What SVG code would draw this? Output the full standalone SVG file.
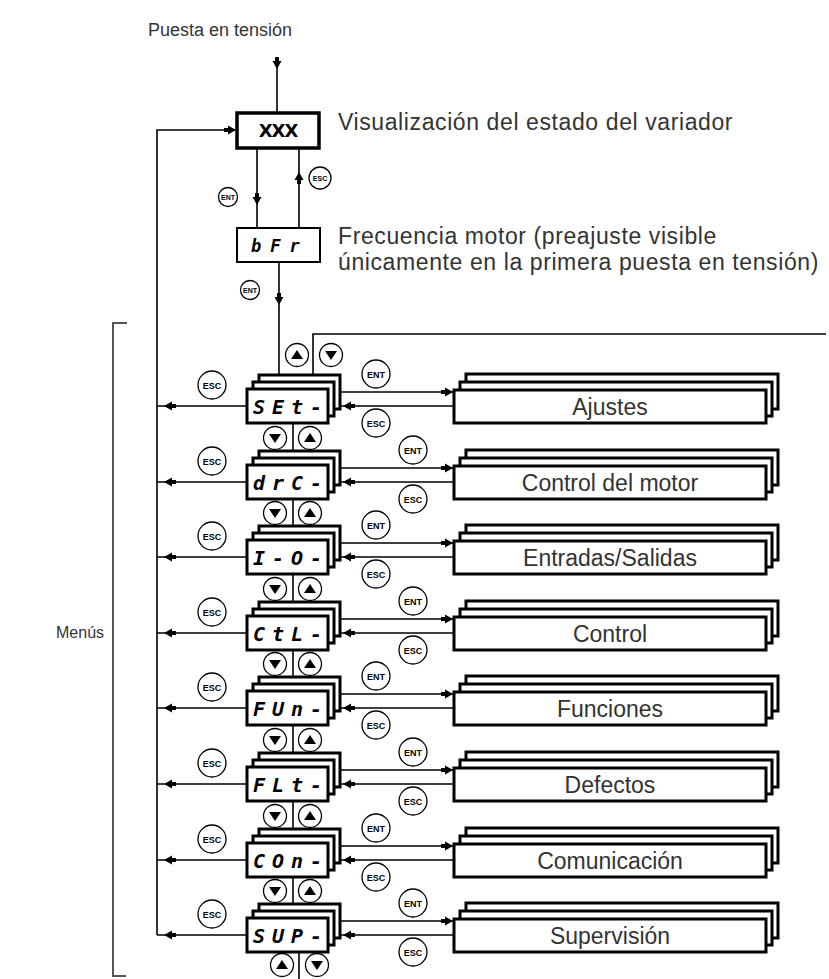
<svg xmlns="http://www.w3.org/2000/svg" xmlns:xlink="http://www.w3.org/1999/xlink" width="829" height="979" viewBox="0 0 829 979">
<style>
.lay{fill:#fff;stroke:#000;stroke-width:3}
.ln{fill:none;stroke:#000;stroke-width:1.6}
.btn{fill:#fff;stroke:#000;stroke-width:1.3}
.lbl{font-family:"Liberation Sans",Arial,sans-serif;font-size:23px;fill:#333;text-anchor:middle}
.cap{font-family:"Liberation Sans",Arial,sans-serif;font-size:23px;letter-spacing:0.6px;fill:#333}
.sm{font-family:"Liberation Sans",Arial,sans-serif;font-size:18px;fill:#333}
.seg{font-family:"DejaVu Sans Mono",monospace;font-weight:bold;font-style:oblique;font-size:20px;letter-spacing:7px;fill:#000}
.bt{font-family:"Liberation Sans",Arial,sans-serif;font-weight:bold;font-size:9px;fill:#000;text-anchor:middle}
.bts{font-family:"Liberation Sans",Arial,sans-serif;font-weight:bold;font-size:7px;fill:#000;text-anchor:middle}
</style>
<defs>
<path id="ar" d="M0,0 L-8,-4.5 L-8,-2 L-12,-2 L-12,2 L-8,2 L-8,4.5 Z" fill="#000"/>
<g id="bUp"><circle r="11.5" class="btn"/><path d="M-6,4 L6,4 L0,-5 Z" fill="#000"/></g>
<g id="bDn"><circle r="11.5" class="btn"/><path d="M-6,-4 L6,-4 L0,5 Z" fill="#000"/></g>
<g id="bEnt"><circle r="14" class="btn"/><text class="bt" y="3.5">ENT</text></g>
<g id="bEsc"><circle r="14" class="btn"/><text class="bt" y="3.5">ESC</text></g>
</defs>
<rect width="829" height="979" fill="#fff"/>

<g id="labels">
<text class="sm" x="148" y="36">Puesta en tensión</text>
<text class="cap" x="338" y="130">Visualización del estado del variador</text>
<text class="cap" x="338" y="244">Frecuencia motor (preajuste visible</text>
<text class="cap" x="338" y="270">únicamente en la primera puesta en tensión)</text>
<text class="sm" x="56" y="638" style="font-size:16px">Menús</text>
</g>

<g id="bracket"><polyline points="127,323 113,323 113,976 126,976" fill="none" stroke="#555" stroke-width="2"/></g>

<g id="connectors">
<line class="ln" x1="277" y1="60" x2="277" y2="113"/>
<use xlink:href="#ar" transform="translate(277,69) rotate(90)"/>
<polyline class="ln" points="235,130 157,130 157,935"/>
<use xlink:href="#ar" transform="translate(236,130)"/>
<line class="ln" x1="257" y1="148" x2="257" y2="228"/>
<use xlink:href="#ar" transform="translate(257,205) rotate(90)"/>
<line class="ln" x1="299" y1="148" x2="299" y2="228"/>
<use xlink:href="#ar" transform="translate(299,172) rotate(-90)"/>
<line class="ln" x1="279" y1="262" x2="279" y2="375"/>
<use xlink:href="#ar" transform="translate(279,305) rotate(90)"/>
<polyline class="ln" points="313,375 313,334 826,334"/>
<line class="ln" x1="299" y1="952" x2="299" y2="979"/>

<g id="row-lines">
<line class="ln" x1="247" y1="406" x2="157" y2="406"/><use xlink:href="#ar" transform="translate(164,406) rotate(180)"/>
<line class="ln" x1="340" y1="392" x2="454" y2="392"/><use xlink:href="#ar" transform="translate(453,392)"/>
<line class="ln" x1="454" y1="406" x2="340" y2="406"/><use xlink:href="#ar" transform="translate(343,406) rotate(180)"/>
<line class="ln" x1="293" y1="423" x2="293" y2="451"/>

<line class="ln" x1="247" y1="482" x2="157" y2="482"/><use xlink:href="#ar" transform="translate(164,482) rotate(180)"/>
<line class="ln" x1="340" y1="468" x2="454" y2="468"/><use xlink:href="#ar" transform="translate(453,468)"/>
<line class="ln" x1="454" y1="482" x2="340" y2="482"/><use xlink:href="#ar" transform="translate(343,482) rotate(180)"/>
<line class="ln" x1="293" y1="499" x2="293" y2="526"/>

<line class="ln" x1="247" y1="557" x2="157" y2="557"/><use xlink:href="#ar" transform="translate(164,557) rotate(180)"/>
<line class="ln" x1="340" y1="543" x2="454" y2="543"/><use xlink:href="#ar" transform="translate(453,543)"/>
<line class="ln" x1="454" y1="557" x2="340" y2="557"/><use xlink:href="#ar" transform="translate(343,557) rotate(180)"/>
<line class="ln" x1="293" y1="574" x2="293" y2="602"/>

<line class="ln" x1="247" y1="633" x2="157" y2="633"/><use xlink:href="#ar" transform="translate(164,633) rotate(180)"/>
<line class="ln" x1="340" y1="619" x2="454" y2="619"/><use xlink:href="#ar" transform="translate(453,619)"/>
<line class="ln" x1="454" y1="633" x2="340" y2="633"/><use xlink:href="#ar" transform="translate(343,633) rotate(180)"/>
<line class="ln" x1="293" y1="650" x2="293" y2="677"/>

<line class="ln" x1="247" y1="708" x2="157" y2="708"/><use xlink:href="#ar" transform="translate(164,708) rotate(180)"/>
<line class="ln" x1="340" y1="694" x2="454" y2="694"/><use xlink:href="#ar" transform="translate(453,694)"/>
<line class="ln" x1="454" y1="708" x2="340" y2="708"/><use xlink:href="#ar" transform="translate(343,708) rotate(180)"/>
<line class="ln" x1="293" y1="725" x2="293" y2="753"/>

<line class="ln" x1="247" y1="784" x2="157" y2="784"/><use xlink:href="#ar" transform="translate(164,784) rotate(180)"/>
<line class="ln" x1="340" y1="770" x2="454" y2="770"/><use xlink:href="#ar" transform="translate(453,770)"/>
<line class="ln" x1="454" y1="784" x2="340" y2="784"/><use xlink:href="#ar" transform="translate(343,784) rotate(180)"/>
<line class="ln" x1="293" y1="801" x2="293" y2="829"/>

<line class="ln" x1="247" y1="860" x2="157" y2="860"/><use xlink:href="#ar" transform="translate(164,860) rotate(180)"/>
<line class="ln" x1="340" y1="846" x2="454" y2="846"/><use xlink:href="#ar" transform="translate(453,846)"/>
<line class="ln" x1="454" y1="860" x2="340" y2="860"/><use xlink:href="#ar" transform="translate(343,860) rotate(180)"/>
<line class="ln" x1="293" y1="877" x2="293" y2="904"/>

<line class="ln" x1="247" y1="935" x2="157" y2="935"/><use xlink:href="#ar" transform="translate(164,935) rotate(180)"/>
<line class="ln" x1="340" y1="921" x2="454" y2="921"/><use xlink:href="#ar" transform="translate(453,921)"/>
<line class="ln" x1="454" y1="935" x2="340" y2="935"/><use xlink:href="#ar" transform="translate(343,935) rotate(180)"/>
</g>
</g>

<g id="node-xxx">
<rect x="237" y="113" width="82" height="35" fill="#fff" stroke="#000" stroke-width="3.5"/>
<text x="278" y="137" font-family="DejaVu Sans,sans-serif" font-weight="bold" font-size="18" text-anchor="middle" letter-spacing="-1">XXX</text>
</g>
<g id="node-bfr">
<rect x="237" y="228" width="83" height="34" fill="#fff" stroke="#000" stroke-width="2"/>
<text class="seg" x="251" y="252" style="font-size:17px;letter-spacing:9px">bFr</text>
</g>

<g id="menu-set"><rect class="lay" x="259" y="375" width="81" height="34"/><rect class="lay" x="253" y="382" width="81" height="34"/><rect class="lay" x="247" y="389" width="81" height="34"/><text class="seg" x="253" y="414">SEt-</text></g>
<g id="menu-drc"><rect class="lay" x="259" y="451" width="81" height="34"/><rect class="lay" x="253" y="458" width="81" height="34"/><rect class="lay" x="247" y="465" width="81" height="34"/><text class="seg" x="253" y="490">drC-</text></g>
<g id="menu-io"><rect class="lay" x="259" y="526" width="81" height="34"/><rect class="lay" x="253" y="533" width="81" height="34"/><rect class="lay" x="247" y="540" width="81" height="34"/><text class="seg" x="253" y="565">I-O-</text></g>
<g id="menu-ctl"><rect class="lay" x="259" y="602" width="81" height="34"/><rect class="lay" x="253" y="609" width="81" height="34"/><rect class="lay" x="247" y="616" width="81" height="34"/><text class="seg" x="253" y="641">CtL-</text></g>
<g id="menu-fun"><rect class="lay" x="259" y="677" width="81" height="34"/><rect class="lay" x="253" y="684" width="81" height="34"/><rect class="lay" x="247" y="691" width="81" height="34"/><text class="seg" x="253" y="716">FUn-</text></g>
<g id="menu-flt"><rect class="lay" x="259" y="753" width="81" height="34"/><rect class="lay" x="253" y="760" width="81" height="34"/><rect class="lay" x="247" y="767" width="81" height="34"/><text class="seg" x="253" y="792">FLt-</text></g>
<g id="menu-con"><rect class="lay" x="259" y="829" width="81" height="34"/><rect class="lay" x="253" y="836" width="81" height="34"/><rect class="lay" x="247" y="843" width="81" height="34"/><text class="seg" x="253" y="868">COn-</text></g>
<g id="menu-sup"><rect class="lay" x="259" y="904" width="81" height="34"/><rect class="lay" x="253" y="911" width="81" height="34"/><rect class="lay" x="247" y="918" width="81" height="34"/><text class="seg" x="253" y="943">SUP-</text></g>

<g id="sub-ajustes"><rect class="lay" x="466" y="374" width="312" height="35"/><rect class="lay" x="460" y="382" width="312" height="34"/><rect class="lay" x="454" y="390" width="312" height="33"/><text class="lbl" x="610" y="415">Ajustes</text></g>
<g id="sub-motor"><rect class="lay" x="466" y="450" width="312" height="35"/><rect class="lay" x="460" y="458" width="312" height="34"/><rect class="lay" x="454" y="466" width="312" height="33"/><text class="lbl" x="610" y="491">Control del motor</text></g>
<g id="sub-es"><rect class="lay" x="466" y="525" width="312" height="35"/><rect class="lay" x="460" y="533" width="312" height="34"/><rect class="lay" x="454" y="541" width="312" height="33"/><text class="lbl" x="610" y="566">Entradas/Salidas</text></g>
<g id="sub-control"><rect class="lay" x="466" y="601" width="312" height="35"/><rect class="lay" x="460" y="609" width="312" height="34"/><rect class="lay" x="454" y="617" width="312" height="33"/><text class="lbl" x="610" y="642">Control</text></g>
<g id="sub-funciones"><rect class="lay" x="466" y="676" width="312" height="35"/><rect class="lay" x="460" y="684" width="312" height="34"/><rect class="lay" x="454" y="692" width="312" height="33"/><text class="lbl" x="610" y="717">Funciones</text></g>
<g id="sub-defectos"><rect class="lay" x="466" y="752" width="312" height="35"/><rect class="lay" x="460" y="760" width="312" height="34"/><rect class="lay" x="454" y="768" width="312" height="33"/><text class="lbl" x="610" y="793">Defectos</text></g>
<g id="sub-com"><rect class="lay" x="466" y="828" width="312" height="35"/><rect class="lay" x="460" y="836" width="312" height="34"/><rect class="lay" x="454" y="844" width="312" height="33"/><text class="lbl" x="610" y="869">Comunicación</text></g>
<g id="sub-sup"><rect class="lay" x="466" y="903" width="312" height="35"/><rect class="lay" x="460" y="911" width="312" height="34"/><rect class="lay" x="454" y="919" width="312" height="33"/><text class="lbl" x="610" y="944">Supervisión</text></g>

<g id="buttons">
<circle cx="228" cy="197" r="9.5" class="btn"/><text class="bts" x="228" y="199.5">ENT</text>
<circle cx="320" cy="178" r="11" class="btn"/><text class="bts" x="320" y="180.5">ESC</text>
<circle cx="250" cy="290" r="9.5" class="btn"/><text class="bts" x="250" y="292.5">ENT</text>
<use xlink:href="#bUp" x="297" y="355"/><use xlink:href="#bDn" x="331" y="355"/>

<use xlink:href="#bEsc" x="212" y="385"/><use xlink:href="#bEnt" x="376" y="374"/><use xlink:href="#bEsc" x="376" y="423"/>
<use xlink:href="#bDn" x="275" y="438"/><use xlink:href="#bUp" x="310" y="438"/>
<use xlink:href="#bEsc" x="212" y="461"/><use xlink:href="#bEnt" x="413" y="450"/><use xlink:href="#bEsc" x="413" y="499"/>
<use xlink:href="#bDn" x="275" y="513"/><use xlink:href="#bUp" x="310" y="513"/>
<use xlink:href="#bEsc" x="212" y="536"/><use xlink:href="#bEnt" x="376" y="525"/><use xlink:href="#bEsc" x="376" y="574"/>
<use xlink:href="#bDn" x="275" y="589"/><use xlink:href="#bUp" x="310" y="589"/>
<use xlink:href="#bEsc" x="212" y="612"/><use xlink:href="#bEnt" x="413" y="601"/><use xlink:href="#bEsc" x="413" y="650"/>
<use xlink:href="#bDn" x="275" y="664"/><use xlink:href="#bUp" x="310" y="664"/>
<use xlink:href="#bEsc" x="212" y="687"/><use xlink:href="#bEnt" x="376" y="676"/><use xlink:href="#bEsc" x="376" y="725"/>
<use xlink:href="#bDn" x="275" y="740"/><use xlink:href="#bUp" x="310" y="740"/>
<use xlink:href="#bEsc" x="212" y="763"/><use xlink:href="#bEnt" x="413" y="752"/><use xlink:href="#bEsc" x="413" y="801"/>
<use xlink:href="#bDn" x="275" y="816"/><use xlink:href="#bUp" x="310" y="816"/>
<use xlink:href="#bEsc" x="212" y="839"/><use xlink:href="#bEnt" x="376" y="828"/><use xlink:href="#bEsc" x="376" y="877"/>
<use xlink:href="#bDn" x="275" y="891"/><use xlink:href="#bUp" x="310" y="891"/>
<use xlink:href="#bEsc" x="212" y="914"/><use xlink:href="#bEnt" x="413" y="903"/><use xlink:href="#bEsc" x="413" y="952"/>
<use xlink:href="#bUp" x="282" y="965"/><use xlink:href="#bDn" x="317" y="965"/>
</g>
</svg>
